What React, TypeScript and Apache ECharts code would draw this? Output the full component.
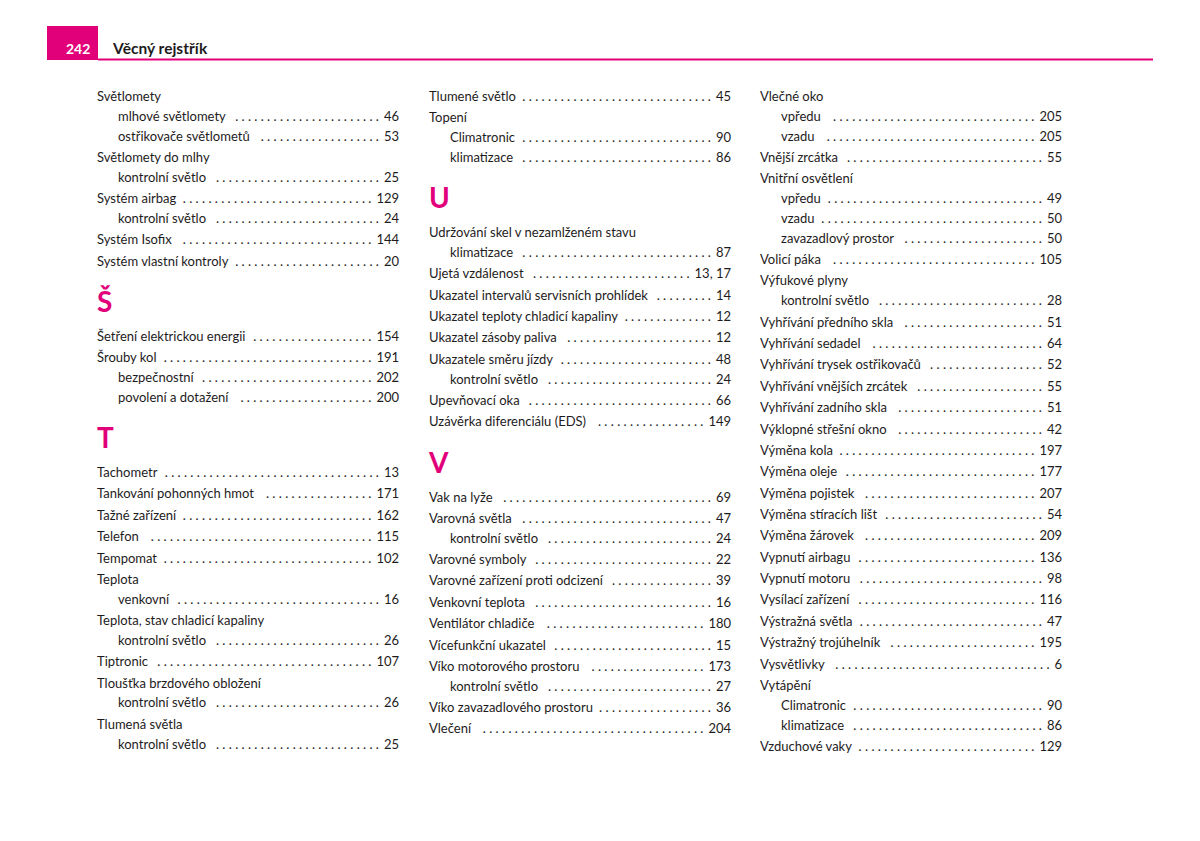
import React, { useEffect, useRef } from "react";
import * as echarts from "echarts";

// Index entries: [level, label, page]  level: "h" = letter heading, "m" = main entry, "s" = sub entry
const pageNumber = "242";
const pageTitle = "Věcný rejstřík";

const column1: [string, string, string][] = [
  ["m", "Světlomety", ""],
  ["s", "mlhové světlomety", "46"],
  ["s", "ostřikovače světlometů", "53"],
  ["m", "Světlomety do mlhy", ""],
  ["s", "kontrolní světlo", "25"],
  ["m", "Systém airbag", "129"],
  ["s", "kontrolní světlo", "24"],
  ["m", "Systém Isofix", "144"],
  ["m", "Systém vlastní kontroly", "20"],
  ["h", "Š", ""],
  ["m", "Šetření elektrickou energii", "154"],
  ["m", "Šrouby kol", "191"],
  ["s", "bezpečnostní", "202"],
  ["s", "povolení a dotažení", "200"],
  ["h", "T", ""],
  ["m", "Tachometr", "13"],
  ["m", "Tankování pohonných hmot", "171"],
  ["m", "Tažné zařízení", "162"],
  ["m", "Telefon", "115"],
  ["m", "Tempomat", "102"],
  ["m", "Teplota", ""],
  ["s", "venkovní", "16"],
  ["m", "Teplota, stav chladicí kapaliny", ""],
  ["s", "kontrolní světlo", "26"],
  ["m", "Tiptronic", "107"],
  ["m", "Tloušťka brzdového obložení", ""],
  ["s", "kontrolní světlo", "26"],
  ["m", "Tlumená světla", ""],
  ["s", "kontrolní světlo", "25"],
];

const column2: [string, string, string][] = [
  ["m", "Tlumené světlo", "45"],
  ["m", "Topení", ""],
  ["s", "Climatronic", "90"],
  ["s", "klimatizace", "86"],
  ["h", "U", ""],
  ["m", "Udržování skel v nezamlženém stavu", ""],
  ["s", "klimatizace", "87"],
  ["m", "Ujetá vzdálenost", "13, 17"],
  ["m", "Ukazatel intervalů servisních prohlídek", "14"],
  ["m", "Ukazatel teploty chladicí kapaliny", "12"],
  ["m", "Ukazatel zásoby paliva", "12"],
  ["m", "Ukazatele směru jízdy", "48"],
  ["s", "kontrolní světlo", "24"],
  ["m", "Upevňovací oka", "66"],
  ["m", "Uzávěrka diferenciálu (EDS)", "149"],
  ["h", "V", ""],
  ["m", "Vak na lyže", "69"],
  ["m", "Varovná světla", "47"],
  ["s", "kontrolní světlo", "24"],
  ["m", "Varovné symboly", "22"],
  ["m", "Varovné zařízení proti odcizení", "39"],
  ["m", "Venkovní teplota", "16"],
  ["m", "Ventilátor chladiče", "180"],
  ["m", "Vícefunkční ukazatel", "15"],
  ["m", "Víko motorového prostoru", "173"],
  ["s", "kontrolní světlo", "27"],
  ["m", "Víko zavazadlového prostoru", "36"],
  ["m", "Vlečení", "204"],
];

const column3: [string, string, string][] = [
  ["m", "Vlečné oko", ""],
  ["s", "vpředu", "205"],
  ["s", "vzadu", "205"],
  ["m", "Vnější zrcátka", "55"],
  ["m", "Vnitřní osvětlení", ""],
  ["s", "vpředu", "49"],
  ["s", "vzadu", "50"],
  ["s", "zavazadlový prostor", "50"],
  ["m", "Volicí páka", "105"],
  ["m", "Výfukové plyny", ""],
  ["s", "kontrolní světlo", "28"],
  ["m", "Vyhřívání předního skla", "51"],
  ["m", "Vyhřívání sedadel", "64"],
  ["m", "Vyhřívání trysek ostřikovačů", "52"],
  ["m", "Vyhřívání vnějších zrcátek", "55"],
  ["m", "Vyhřívání zadního skla", "51"],
  ["m", "Výklopné střešní okno", "42"],
  ["m", "Výměna kola", "197"],
  ["m", "Výměna oleje", "177"],
  ["m", "Výměna pojistek", "207"],
  ["m", "Výměna stíracích lišt", "54"],
  ["m", "Výměna žárovek", "209"],
  ["m", "Vypnutí airbagu", "136"],
  ["m", "Vypnutí motoru", "98"],
  ["m", "Vysílací zařízení", "116"],
  ["m", "Výstražná světla", "47"],
  ["m", "Výstražný trojúhelník", "195"],
  ["m", "Vysvětlivky", "6"],
  ["m", "Vytápění", ""],
  ["s", "Climatronic", "90"],
  ["s", "klimatizace", "86"],
  ["m", "Vzduchové vaky", "129"],
];

const MAGENTA = "#e2007a";
const INK = "#1e1b1c";
const FONT_FAMILY = "Lato";
const BODY_FONT = `13px ${FONT_FAMILY}`;

export default function App() {
  const ref = useRef<HTMLDivElement>(null);

  useEffect(() => {
    if (!ref.current) return;
    const chart = echarts.init(ref.current, undefined, { renderer: "svg" });

    const canvas = document.createElement("canvas");
    const ctx = canvas.getContext("2d")!;
    ctx.font = BODY_FONT;
    const measure = (s: string) => ctx.measureText(s).width;
    const dotPair = measure(". ");
    const dotW = measure(".");

    const elements: any[] = [];

    // header
    elements.push({
      type: "rect",
      shape: { x: 47, y: 26, width: 51, height: 34 },
      style: { fill: MAGENTA },
    });
    elements.push({
      type: "rect",
      shape: { x: 98, y: 58.5, width: 1055, height: 2 },
      style: { fill: MAGENTA },
    });
    elements.push({
      type: "text",
      style: {
        text: pageNumber,
        x: 66,
        y: 55,
        font: `bold 14px ${FONT_FAMILY}`,
        fill: "#ffffff",
        textAlign: "left",
        textVerticalAlign: "bottom",
      },
    });
    elements.push({
      type: "text",
      style: {
        text: pageTitle,
        x: 113,
        y: 56,
        font: `bold 15.5px ${FONT_FAMILY}`,
        fill: INK,
        textAlign: "left",
        textVerticalAlign: "bottom",
      },
    });

    const columns = [
      { entries: column1, x: 97, right: 399 },
      { entries: column2, x: 429, right: 731 },
      { entries: column3, x: 760, right: 1062 },
    ];

    columns.forEach((col) => {
      let y = 96;
      let prev = "";
      col.entries.forEach(([lvl, label, page], i) => {
        if (i > 0) {
          if (lvl === "h") y += 40.2;
          else if (prev === "h") y += 35.0;
          else if (lvl === "s") y += 19.8;
          else y += 21.37;
        }
        prev = lvl;
        if (lvl === "h") {
          elements.push({
            type: "text",
            style: {
              text: label,
              x: col.x,
              y: y,
              font: `bold 28px ${FONT_FAMILY}`,
              fill: MAGENTA,
              textAlign: "left",
              textVerticalAlign: "middle",
            },
          });
          return;
        }
        const tx = lvl === "s" ? col.x + 21 : col.x;
        elements.push({
          type: "text",
          style: {
            text: label,
            x: tx,
            y: y,
            font: BODY_FONT,
            fill: INK,
            textAlign: "left",
            textVerticalAlign: "middle",
          },
        });
        if (page) {
          elements.push({
            type: "text",
            style: {
              text: page,
              x: col.right,
              y: y,
              font: BODY_FONT,
              fill: INK,
              textAlign: "right",
              textVerticalAlign: "middle",
            },
          });
          const numLeft = col.right - measure(page);
          const dotEnd = numLeft - 5;
          const dotStart = tx + measure(label) + 6;
          const avail = dotEnd - dotStart;
          const n = Math.max(0, Math.floor((avail - dotW) / dotPair) + 1);
          if (n > 0) {
            const dots = Array(n).fill(".").join(" ");
            elements.push({
              type: "text",
              style: {
                text: dots,
                x: dotEnd,
                y: y,
                font: BODY_FONT,
                fill: INK,
                textAlign: "right",
                textVerticalAlign: "middle",
              },
            });
          }
        }
      });
    });

    chart.setOption({
      animation: false,
      backgroundColor: "#ffffff",
      graphic: { elements },
    });

    return () => chart.dispose();
  }, []);

  return (
    <div
      ref={ref}
      style={{ position: "absolute", left: 0, top: 0, width: 1200, height: 841, background: "#fff" }}
    />
  );
}
